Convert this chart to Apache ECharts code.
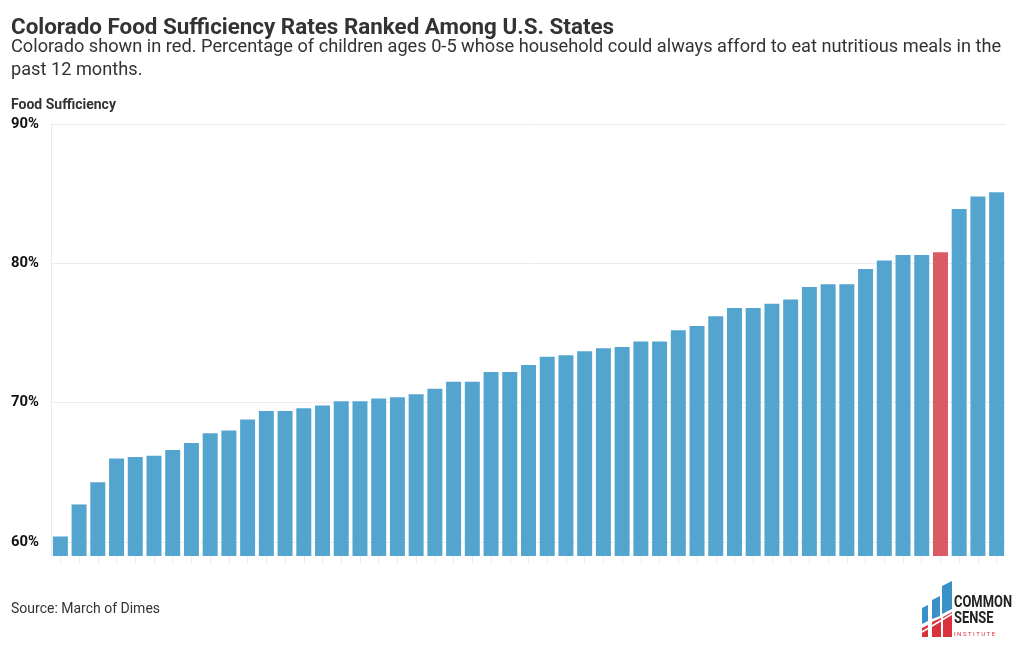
<!DOCTYPE html>
<html>
<head>
<meta charset="utf-8">
<script src="https://cdn.jsdelivr.net/npm/echarts@6/dist/echarts.min.js"></script>
<style>
html,body{margin:0;padding:0;background:#fff;}
#chart{width:1020px;height:650px;}
</style>
</head>
<body>
<div id="chart"></div>
<script>
// Ranked states (state names not shown in the source chart); Colorado is highlighted
const categories = ["1","2","3","4","5","6","7","8","9","10","11","12","13","14","15","16","17","18","19","20","21","22","23","24","25","26","27","28","29","30","31","32","33","34","35","36","37","38","39","40","41","42","43","44","45","46","47","Colorado","49","50","51"];
const values = [60.4,62.7,64.3,66.0,66.1,66.2,66.6,67.1,67.8,68.0,68.8,69.4,69.4,69.6,69.8,70.1,70.1,70.3,70.4,70.6,71.0,71.5,71.5,72.2,72.2,72.7,73.3,73.4,73.7,73.9,74.0,74.4,74.4,75.2,75.5,76.2,76.8,76.8,77.1,77.4,78.3,78.5,78.5,79.6,80.2,80.6,80.6,80.8,83.9,84.8,85.1];
const highlight = "Colorado";
const yTicks = [60,70,80,90];

const BLUE = '#4ca1cd', RED = '#d9545e';
const FONT = 'Roboto, "Noto Sans", sans-serif';
const LOGO_FONT = 'Roboto, sans-serif';

const chart = echarts.init(document.getElementById('chart'), null, {renderer:'canvas'});
chart.setOption({
  backgroundColor:'#fff',
  animation:false,
  title:[
    {
      text:'Colorado Food Sufficiency Rates Ranked Among U.S. States',
      left:11, top:17, padding:0,
      textStyle:{fontFamily:FONT,fontSize:22.4,fontWeight:'bold',color:'#333',lineHeight:22}
    },
    {
      text:'Colorado shown in red. Percentage of children ages 0-5 whose household could always afford to eat nutritious meals in the\npast 12 months.',
      left:11, top:36.5, padding:0,
      textStyle:{fontFamily:FONT,fontSize:18.2,fontWeight:'normal',color:'#333',lineHeight:22.5}
    }
  ],
  grid:{left:51,right:14,top:124,bottom:94,containLabel:false},
  xAxis:{
    type:'category', data:categories,
    axisLine:{show:false},
    axisTick:{show:true,alignWithLabel:true,interval:0,length:8,lineStyle:{color:'#ececec'}},
    axisLabel:{show:false}
  },
  yAxis:{
    type:'value', min:59, max:90, interval:1,
    axisLine:{show:true,lineStyle:{color:'#ebebeb'}},
    axisTick:{show:false},
    splitLine:{show:false},
    axisLabel:{
      align:'left', margin:40,
      fontFamily:FONT,fontSize:14.8,fontWeight:'bold',color:'#111',
      formatter:v => yTicks.indexOf(v) >= 0 ? v + '%' : ''
    }
  },
  series:[
    {
      type:'line', data:[], z:1, silent:true,
      markLine:{
        z:1, silent:true, symbol:'none', animation:false,
        label:{show:false},
        lineStyle:{color:'#ebebeb',type:'solid',width:1},
        data:yTicks.map(v => ({yAxis:v}))
      }
    },
    {
      type:'bar', z:2,
      barCategoryGap:'20%',
      data:values.map((v,i) => ({
        value:v,
        itemStyle:{color: categories[i] === highlight ? RED : BLUE, opacity:0.96}
      }))
    }
  ],
  graphic:[
    {type:'text',x:11,y:105,style:{text:'Food Sufficiency',font:'bold 14px '+FONT,fill:'#333',verticalAlign:'middle'}},
    {type:'text',x:11,y:609.5,style:{text:'Source: March of Dimes',font:'14px '+FONT,fill:'#333',verticalAlign:'middle'}},
    // logo
    {type:'group',x:921,y:581,children:[
      {type:'polygon',shape:{points:[[1,27],[7,24],[7,40],[1,43]]},style:{fill:'#3a90c8'}},
      {type:'polygon',shape:{points:[[11,19],[19,15],[19,35],[11,38]]},style:{fill:'#3a90c8'}},
      {type:'polygon',shape:{points:[[21,5],[31,0],[31,28],[21,33]]},style:{fill:'#3a90c8'}},
      {type:'polygon',shape:{points:[[1,47],[7,44],[7,56],[1,56]]},style:{fill:'#d8323c'}},
      {type:'polygon',shape:{points:[[11,41],[20,37],[20,56],[11,56]]},style:{fill:'#d8323c'}},
      {type:'polygon',shape:{points:[[22,36],[31,31],[31,56],[22,56]]},style:{fill:'#d8323c'}},
      {type:'polyline',shape:{points:[[1,51],[11,45],[21,39],[31,33]]},style:{stroke:'#fff',lineWidth:1.5,fill:null}},
      {type:'text',x:33,y:21.5,scaleX:0.76,style:{text:'COMMON',font:'bold 17px '+LOGO_FONT,fill:'#222',verticalAlign:'middle'}},
      {type:'text',x:33,y:37.5,scaleX:0.76,style:{text:'SENSE',font:'bold 17px '+LOGO_FONT,fill:'#222',verticalAlign:'middle'}},
      {type:'text',x:33,y:53.5,style:{text:'I N S T I T U T E',font:'6px '+LOGO_FONT,fill:'#d8323c',verticalAlign:'middle'}}
    ]}
  ]
});
</script>
</body>
</html>
